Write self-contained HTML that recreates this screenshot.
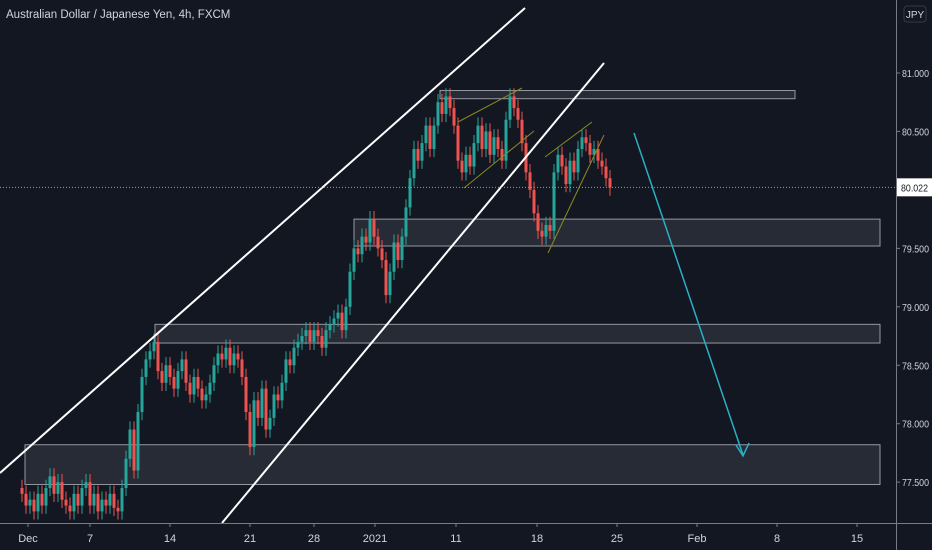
<!DOCTYPE html>
<html><head><meta charset="utf-8"><style>
html,body{margin:0;padding:0;background:#131722;}
svg{display:block;font-family:"Liberation Sans",sans-serif;}
</style></head><body>
<svg id="chart" width="932" height="550" viewBox="0 0 932 550" xmlns="http://www.w3.org/2000/svg">
<rect x="0" y="0" width="932" height="550" fill="#131722"/>
<text x="6" y="18" fill="#d1d4dc" font-size="11.5">Australian Dollar / Japanese Yen, 4h, FXCM</text>
<g id="boxes"></g><g id="candles"></g><g id="drawings"></g><g id="axes"></g>
</svg>
<script>
const closes=[77.40,77.30,77.35,77.25,77.40,77.30,77.45,77.55,77.40,77.50,77.35,77.30,77.25,77.40,77.30,77.45,77.50,77.30,77.40,77.25,77.35,77.30,77.40,77.28,77.25,77.45,77.70,77.95,77.60,78.10,78.40,78.55,78.62,78.70,78.45,78.35,78.50,78.40,78.30,78.45,78.55,78.35,78.25,78.40,78.30,78.20,78.25,78.35,78.50,78.60,78.55,78.65,78.50,78.60,78.55,78.40,78.10,77.80,78.20,78.05,78.30,77.95,78.05,78.25,78.20,78.35,78.55,78.50,78.65,78.70,78.75,78.80,78.70,78.80,78.75,78.65,78.80,78.85,78.90,78.95,78.80,79.00,79.30,79.50,79.45,79.60,79.55,79.75,79.60,79.50,79.40,79.10,79.30,79.55,79.40,79.60,79.85,80.10,80.35,80.25,80.40,80.55,80.35,80.55,80.75,80.65,80.80,80.70,80.55,80.25,80.15,80.30,80.20,80.40,80.55,80.35,80.50,80.30,80.45,80.35,80.25,80.60,80.80,80.70,80.60,80.40,80.15,80.00,79.80,79.65,79.60,79.70,79.65,80.15,80.30,80.20,80.05,80.25,80.15,80.35,80.45,80.40,80.30,80.35,80.25,80.20,80.10,80.02];
const firstOpen=77.45;
const wickSize=0.07;
const priceTicks=[81.0,80.5,79.5,79.0,78.5,78.0,77.5];
const dateLabels=["Dec","7","14","21","28","2021","11","18","25","Feb","8","15"];
const dateBarIndex=[1.5,17,37,57,73,88.25,108.5,128.75,148.75,168.75,188.75,208.75];
const lastPrice=80.022;
const zones=[[80.85,80.78,440,795],[79.75,79.52,354,880],[78.85,78.69,155,880],[77.82,77.48,25,880]];

const NS="http://www.w3.org/2000/svg";
function py(p){return 73+(81-p)*116.9;}
function bx(i){return 22+i*4;}
function mk(tag,attrs,parent){const e=document.createElementNS(NS,tag);for(const k in attrs)e.setAttribute(k,attrs[k]);parent.appendChild(e);return e;}
const gB=document.getElementById('boxes'),gC=document.getElementById('candles'),gD=document.getElementById('drawings'),gA=document.getElementById('axes');

zones.forEach((z)=>{const r=mk('rect',{x:z[2],y:py(z[0]),width:z[3]-z[2],height:py(z[1])-py(z[0]),fill:'rgba(120,123,134,0.2)',stroke:'#9598a1','stroke-width':1},gB);

});

closes.forEach((c,i)=>{const o=i?closes[i-1]:firstOpen;const up=c>=o;const col=up?'#26a69a':'#ef5350';
const hi=Math.max(o,c)+wickSize,lo=Math.min(o,c)-wickSize;
const w=mk('line',{x1:bx(i),x2:bx(i),y1:py(hi),y2:py(lo),stroke:col,'stroke-width':1},gC);


const top=py(Math.max(o,c)),bot=py(Math.min(o,c));
const b=mk('rect',{x:bx(i)-1.5,y:top,width:3,height:Math.max(1,bot-top),fill:col},gC);

});

function ln(x1,y1,x2,y2,col,w,name){const l=mk('line',{x1,y1,x2,y2,stroke:col,'stroke-width':w},gD);return l;}
ln(0,473,525,8,'#ffffff',2,'upper-channel-line');
ln(222,523,604,63,'#ffffff',2,'lower-channel-line');
ln(458,122,522,88,'#8a8a1e',1,'wedge-upper-1');
ln(464,188,534,131,'#8a8a1e',1,'wedge-lower-1');
ln(545,157,592,122,'#8a8a1e',1,'wedge-upper-2');
ln(548,253,604,135,'#8a8a1e',1,'wedge-lower-2');
ln(634,133,743,455,'#2ab0c5',1.5,'projection-arrow');
const ah=mk('polyline',{points:'736,445 743,456 749,443',fill:'none',stroke:'#2ab0c5','stroke-width':1.5},gD);



const pl=mk('line',{x1:0,x2:896,y1:py(lastPrice),y2:py(lastPrice),stroke:'#9598a1','stroke-width':1,'stroke-dasharray':'1,2'},gA);


const ax=mk('line',{x1:896.5,x2:896.5,y1:0,y2:550,stroke:'#787b86','stroke-width':1},gA);


const bxl=mk('line',{x1:0,x2:932,y1:523.5,y2:523.5,stroke:'#787b86','stroke-width':1},gA);


priceTicks.forEach(p=>{const y=py(p);
const t=mk('line',{x1:896,x2:900,y1:y,y2:y,stroke:'#787b86'},gA);


const l=mk('text',{x:902,y:y+4,fill:'#d1d4dc','font-size':10.5,textLength:27,lengthAdjust:'spacingAndGlyphs'},gA);l.textContent=p.toFixed(3);

});
dateLabels.forEach((d,k)=>{const x=bx(dateBarIndex[k]);
const t=mk('line',{x1:x,x2:x,y1:523,y2:527,stroke:'#787b86'},gA);


const l=mk('text',{x:x,y:542,fill:'#d1d4dc','font-size':11,'text-anchor':'middle'},gA);l.textContent=d;

});
const lb=mk('rect',{x:897,y:py(lastPrice)-9,width:35,height:18,fill:'#ffffff'},gA);


const lt=mk('text',{x:901,y:py(lastPrice)+4,fill:'#131722','font-size':10.5,textLength:27,lengthAdjust:'spacingAndGlyphs'},gA);lt.textContent=lastPrice.toFixed(3);


const cb=mk('rect',{x:904,y:6,width:22,height:16,rx:3,fill:'#131722',stroke:'#363a45'},gA);


const ct=mk('text',{x:915,y:18,fill:'#d1d4dc','font-size':10,'text-anchor':'middle'},gA);ct.textContent='JPY';


</script>
</body></html>
